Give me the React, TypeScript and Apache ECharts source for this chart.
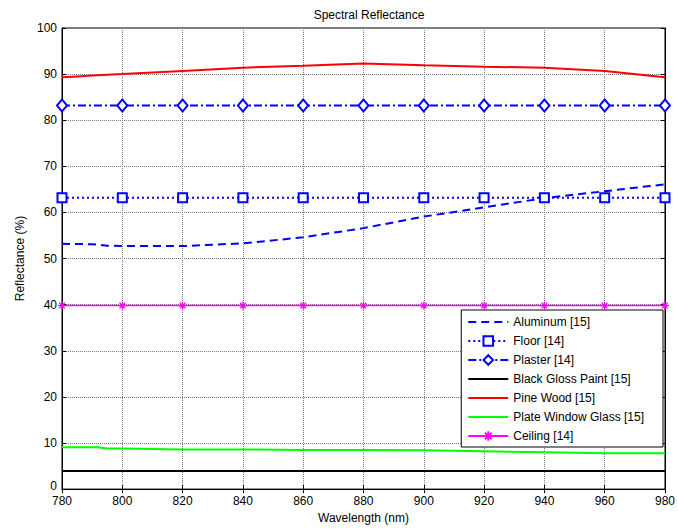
import React, { useEffect, useRef } from "react";
import * as echarts from "echarts";

const alWl = [780, 790, 795, 800, 820, 840, 860, 880, 900, 920, 940, 960, 980];
const aluminum = [53.2, 53.1, 52.8, 52.7, 52.7, 53.3, 54.6, 56.6, 59.1, 61.1, 63.1, 64.6, 66.1];
const pineWl = [780, 785, 790, 800, 820, 840, 860, 880, 900, 920, 940, 960, 980];
const pineWood = [89.3, 89.5, 89.7, 90.0, 90.7, 91.4, 91.8, 92.3, 91.9, 91.6, 91.4, 90.7, 89.3];
const glassWl = [780, 792, 795, 800, 820, 840, 860, 880, 900, 920, 940, 960, 980];
const glass = [9.1, 9.1, 8.8, 8.8, 8.6, 8.6, 8.5, 8.5, 8.4, 8.2, 8.0, 7.8, 7.8];
const markerWl = [780, 800, 820, 840, 860, 880, 900, 920, 940, 960, 980];
const floor = [63.2, 63.2, 63.2, 63.2, 63.2, 63.2, 63.2, 63.2, 63.2, 63.2, 63.2];
const plaster = [83.2, 83.2, 83.2, 83.2, 83.2, 83.2, 83.2, 83.2, 83.2, 83.2, 83.2];
const blackPaint = [3.9, 3.9, 3.9, 3.9, 3.9, 3.9, 3.9, 3.9, 3.9, 3.9, 3.9];
const ceiling = [39.8, 39.8, 39.8, 39.8, 39.8, 39.8, 39.8, 39.8, 39.8, 39.8, 39.8];
const seriesNames = [
  "Aluminum [15]",
  "Floor [14]",
  "Plaster [14]",
  "Black Gloss Paint [15]",
  "Pine Wood [15]",
  "Plate Window Glass [15]",
  "Ceiling [14]",
];
const noMarkerSeries = [0, 3, 4, 5];

const pair = (xs: number[], ys: number[]) => xs.map((x, i) => [x, ys[i]]);

const FONT = "Liberation Sans, Arial, sans-serif";
const STAR = "path://M5,0L5,10M0,5L10,5M1.5,1.5L8.5,8.5M1.5,8.5L8.5,1.5";

export default function App() {
  const ref = useRef<HTMLDivElement>(null);
  useEffect(() => {
    if (!ref.current) return;
    const chart = echarts.init(ref.current, undefined, { renderer: "svg" });
    const gridLine = { show: true, lineStyle: { color: "#7a7a7a", type: "dotted" as const, width: 1 } };
    chart.setOption({
      animation: false,
      backgroundColor: "#fff",
      textStyle: { fontFamily: FONT },
      title: {
        text: "Spectral Reflectance",
        left: 364,
        textAlign: "center",
        top: 4,
        textStyle: { fontSize: 12, fontWeight: "normal", color: "#000", fontFamily: FONT },
      },
      grid: { left: 62, right: 11, top: 28, bottom: 38, show: true, borderColor: "#000", borderWidth: 1, backgroundColor: "#fff" },
      legend: {
        orient: "vertical",
        right: 15,
        top: 310,
        itemWidth: 40,
        itemHeight: 12,
        itemGap: 7,
        padding: [6, 19, 5, 6],
        backgroundColor: "#fff",
        borderColor: "#000",
        borderWidth: 1,
        borderRadius: 0,
        textStyle: { fontSize: 12, color: "#000", fontFamily: FONT },
        data: seriesNames.map((n, i) =>
          noMarkerSeries.includes(i) ? { name: n, itemStyle: { opacity: 0 } } : { name: n }
        ),
      },
      xAxis: [
        {
          type: "value",
          min: 780,
          max: 980,
          interval: 20,
          name: "Wavelength (nm)",
          nameLocation: "middle",
          nameGap: 22,
          nameTextStyle: { fontSize: 12, color: "#000", fontFamily: FONT },
          axisLine: { show: true, lineStyle: { color: "#000" } },
          axisTick: { show: true, inside: true, length: 4, lineStyle: { color: "#000" } },
          axisLabel: { fontSize: 12, color: "#000", margin: 6, fontFamily: FONT },
          splitLine: gridLine,
        },
        {
          type: "value",
          position: "top",
          min: 780,
          max: 980,
          interval: 20,
          axisLine: { show: true, lineStyle: { color: "#000" } },
          axisTick: { show: true, inside: true, length: 4, lineStyle: { color: "#000" } },
          axisLabel: { show: false },
          splitLine: { show: false },
        },
      ],
      yAxis: [
        {
          type: "value",
          min: 0,
          max: 100,
          interval: 10,
          name: "Reflectance (%)",
          nameLocation: "middle",
          nameGap: 34,
          nameTextStyle: { fontSize: 12, color: "#000", fontFamily: FONT },
          axisLine: { show: true, lineStyle: { color: "#000" } },
          axisTick: { show: true, inside: true, length: 4, lineStyle: { color: "#000" } },
          axisLabel: {
            fontSize: 12,
            color: "#000",
            margin: 5,
            fontFamily: FONT,
            formatter: (v: number) => (v === 0 ? "{z|0}" : String(v)),
            rich: { z: { fontSize: 12, color: "#000", fontFamily: FONT, padding: [0, 0, 6, 0] } },
          },
          splitLine: gridLine,
        },
        {
          type: "value",
          position: "right",
          min: 0,
          max: 100,
          interval: 10,
          axisLine: { show: true, lineStyle: { color: "#000" } },
          axisTick: { show: true, inside: true, length: 4, lineStyle: { color: "#000" } },
          axisLabel: { show: false },
          splitLine: { show: false },
        },
      ],
      series: [
        {
          name: seriesNames[0],
          type: "line",
          data: pair(alWl, aluminum),
          showSymbol: false,
          symbol: "none",
          color: "#0000ff",
          lineStyle: { color: "#0000ff", width: 2, type: [8, 5] },
        },
        {
          name: seriesNames[1],
          type: "line",
          data: pair(markerWl, floor),
          symbol: "emptyRect",
          symbolSize: 9,
          color: "#0000ff",
          itemStyle: { color: "#0000ff", borderColor: "#0000ff", borderWidth: 2 },
          lineStyle: { color: "#0000ff", width: 2, type: [2, 3] },
        },
        {
          name: seriesNames[2],
          type: "line",
          data: pair(markerWl, plaster),
          symbol: "emptyDiamond",
          symbolSize: [10, 12],
          color: "#0000ff",
          itemStyle: { color: "#0000ff", borderColor: "#0000ff", borderWidth: 2 },
          lineStyle: { color: "#0000ff", width: 2, type: [8, 3, 2, 3] },
        },
        {
          name: seriesNames[3],
          type: "line",
          data: pair(markerWl, blackPaint),
          symbol: "none",
          color: "#000000",
          lineStyle: { color: "#000000", width: 2 },
        },
        {
          name: seriesNames[4],
          type: "line",
          data: pair(pineWl, pineWood),
          symbol: "none",
          color: "#ff0000",
          lineStyle: { color: "#ff0000", width: 2 },
        },
        {
          name: seriesNames[5],
          type: "line",
          data: pair(glassWl, glass),
          symbol: "none",
          color: "#00ff00",
          lineStyle: { color: "#00ff00", width: 2 },
        },
        {
          name: seriesNames[6],
          type: "line",
          data: pair(markerWl, ceiling),
          symbol: STAR,
          symbolSize: 8,
          color: "#ff00ff",
          itemStyle: { color: "#ff00ff", borderColor: "#ff00ff", borderWidth: 1.2 },
          lineStyle: { color: "#ff00ff", width: 1.5 },
        },
      ],
    });
    return () => chart.dispose();
  }, []);
  return (
    <div
      ref={ref}
      style={{ position: "fixed", left: 0, top: 0, width: 678, height: 529, background: "#fff" }}
    />
  );
}
